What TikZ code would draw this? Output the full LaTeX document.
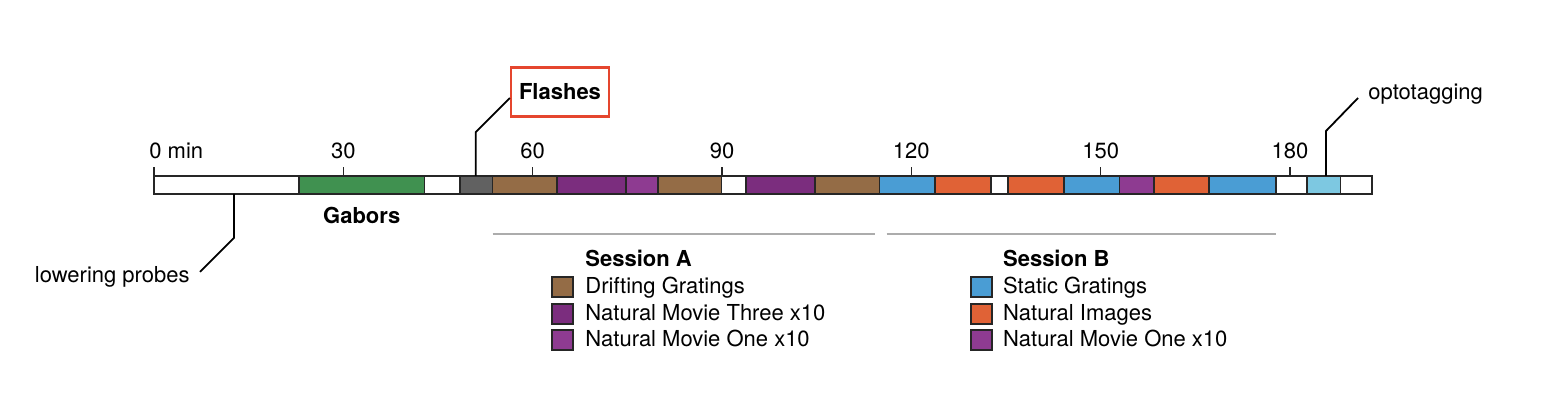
\documentclass[tikz,border=0pt]{standalone}
\usepackage{fontspec}
\setmainfont{TeX Gyre Heros}
\usetikzlibrary{calc}
\definecolor{gaborGreen}{RGB}{64, 145, 80}
\definecolor{flashGray}{RGB}{97, 97, 97}
\definecolor{driftBrown}{RGB}{148, 108, 70}
\definecolor{movieThree}{RGB}{123, 45, 126}
\definecolor{movieOne}{RGB}{142, 59, 145}
\definecolor{staticBlue}{RGB}{74, 157, 212}
\definecolor{imageOrange}{RGB}{224, 98, 54}
\definecolor{optoBlue}{RGB}{125, 200, 225}
\definecolor{flashRed}{RGB}{229, 70, 46}
\tikzset{
    % Timeline Blocks
    seg/.style={
        rectangle,
        draw=black!85,
        line width=0.8pt,
        minimum height=9pt,
        inner sep=0pt,
        outer sep=0pt,
        anchor=west
    },
    tickMark/.style={draw=black!85, line width=0.6pt},
    tickLabel/.style={anchor=base, inner sep=0pt},
    % Leaders & Labels
    leader/.style={draw=black, line width=0.9pt},
    boldLabel/.style={inner sep=0pt, font=\bfseries\fontsize{11}{13}\selectfont},
    sessLine/.style={draw=gray!65, line width=0.6pt},
    % Legend
    swatch/.style={rectangle, draw=black!85, line width=0.8pt, minimum width=10.5pt, minimum height=10pt, inner sep=0pt},
    legText/.style={anchor=base west, inner sep=0pt},
    legHead/.style={legText, font=\bfseries\fontsize{11}{13}\selectfont}
}
\begin{document}
\begin{tikzpicture}[
    x=0.5pt, y=-0.5pt,
    font=\fontsize{11}{13}\selectfont
]
    \useasboundingbox (0,0) rectangle (1566,394);

    % --- TIMELINE BAR ---
    \foreach \a/\b/\c/\n in {
        154/299/white/s1, 299/424.5/gaborGreen/s2, 424.5/460/white/s3,
        460/492.5/flashGray/s4, 492.5/557/driftBrown/s5, 557/626/movieThree/s6,
        626/658/movieOne/s7, 658/721.5/driftBrown/s8, 721.5/746/white/s9,
        746/815/movieThree/s10, 815/879.5/driftBrown/s11, 879.5/935/staticBlue/s12,
        935/991/imageOrange/s13, 991/1008/white/s14, 1008/1064/imageOrange/s15,
        1064/1119.5/staticBlue/s16, 1119.5/1154/movieOne/s17, 1154/1209/imageOrange/s18,
        1209/1276/staticBlue/s19, 1276/1307/white/s20, 1307/1340.5/optoBlue/s21,
        1340.5/1372/white/s22}
        \node (\n) [seg, fill=\c, minimum width={(\b-\a)*0.5pt}] at (\a,185) {};

    % --- TICKS (minutes) ---
    \draw [tickMark] (s1.north west) -- ++(0,-9);
    \node (t0) [anchor=base west, inner sep=0pt] at (149,159) {0 min};
    \foreach \t in {30,60,...,180} {
        \draw [tickMark] (154+\t*6.311,176) -- ++(0,-9);
        \node (t\t) [tickLabel] at (154+\t*6.311,159) {\t};
    }

    % --- CALLOUTS ---
    \node (gabors) [boldLabel, anchor=base] at (s2.center |- 0,224) {Gabors};

    \node (flashes) [boldLabel, draw=flashRed, line width=1.2pt, minimum width=49pt, minimum height=24.5pt] at (560,92) {Flashes};
    \draw [leader] ([yshift=-3pt]flashes.west) -- ++(-17pt,-17pt) coordinate (flBend) -- (flBend |- s4.north);

    \node (opto) [anchor=base west, inner sep=0pt] at (1368,100) {optotagging};
    \draw [leader] ([shift={(-5pt,1pt)}]opto.base west) -- ++(-16pt,-16.5pt) coordinate (optoBend) -- (optoBend |- s21.north);

    \node (lower) [anchor=base east, inner sep=0pt] at (190,283) {lowering probes};
    \draw [leader] ([shift={(5pt,2.8pt)}]lower.east) -- ++(17pt,17pt) coordinate (lowBend) -- (lowBend |- s1.south);

    % --- SESSION RULES ---
    \draw [sessLine] (492.5,234) -- (875,234);
    \draw [sessLine] (886.5,234) -- (1276,234);

    % --- LEGEND A ---
    \node (headA) [legHead] at (585,266.7) {Session A};
    \foreach \i/\c/\txt in {0/driftBrown/Drifting Gratings, 1/movieThree/Natural Movie Three x10, 2/movieOne/Natural Movie One x10} {
        \node (swA\i) [swatch, fill=\c] at (562.2,287.3+\i*26.5) {};
        \node (legA\i) [legText] at (585,294+\i*26.5) {\txt};
    }

    % --- LEGEND B ---
    \node (headB) [legHead] at (1002.7,266.7) {Session B};
    \foreach \i/\c/\txt in {0/staticBlue/Static Gratings, 1/imageOrange/Natural Images, 2/movieOne/Natural Movie One x10} {
        \node (swB\i) [swatch, fill=\c] at (981.7,287.3+\i*26.5) {};
        \node (legB\i) [legText] at (1002.7,294+\i*26.5) {\txt};
    }

\end{tikzpicture}
\end{document}
